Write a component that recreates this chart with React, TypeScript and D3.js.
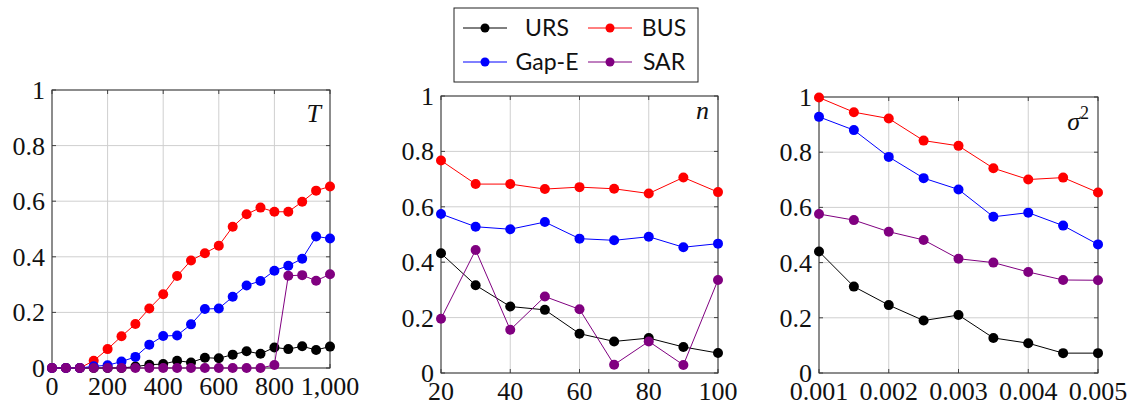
import React from "react";
import * as d3 from "d3";

const seriesNames = ["URS", "BUS", "Gap-E", "SAR"];
const seriesColors = ["#000000", "#ff0000", "#0000ff", "#800080"];

// panel T
const tX = [0, 50, 100, 150, 200, 250, 300, 350, 400, 450, 500, 550, 600, 650, 700, 750, 800, 850, 900, 950, 1000];
const tURS = [0, 0, 0, 0, 0, 0, 0.005, 0.012, 0.014, 0.026, 0.02, 0.037, 0.035, 0.048, 0.06, 0.051, 0.074, 0.068, 0.078, 0.065, 0.077];
const tBUS = [0, 0, 0, 0.026, 0.068, 0.114, 0.158, 0.214, 0.265, 0.331, 0.387, 0.413, 0.44, 0.508, 0.553, 0.577, 0.562, 0.562, 0.598, 0.638, 0.653];
const tGap = [0, 0, 0, 0.006, 0.01, 0.023, 0.04, 0.084, 0.115, 0.117, 0.157, 0.212, 0.214, 0.256, 0.297, 0.313, 0.35, 0.368, 0.393, 0.473, 0.466];
const tSAR = [0, 0, 0, 0, 0, 0, 0, 0, 0, 0, 0, 0, 0, 0, 0, 0, 0.011, 0.332, 0.334, 0.314, 0.337];
const tTicks = [0, 200, 400, 600, 800, 1000];

// panel n
const nX = [20, 30, 40, 50, 60, 70, 80, 90, 100];
const nURS = [0.432, 0.317, 0.24, 0.228, 0.142, 0.114, 0.126, 0.094, 0.072];
const nBUS = [0.767, 0.682, 0.682, 0.664, 0.671, 0.665, 0.648, 0.706, 0.653];
const nGap = [0.574, 0.528, 0.519, 0.545, 0.485, 0.479, 0.492, 0.454, 0.467];
const nSAR = [0.196, 0.444, 0.156, 0.276, 0.23, 0.03, 0.114, 0.029, 0.336];
const nTicks = [20, 40, 60, 80, 100];

// panel sigma^2
const sX = [0.001, 0.0015, 0.002, 0.0025, 0.003, 0.0035, 0.004, 0.0045, 0.005];
const sURS = [0.44, 0.313, 0.246, 0.19, 0.21, 0.127, 0.108, 0.072, 0.072];
const sBUS = [0.998, 0.945, 0.922, 0.842, 0.823, 0.742, 0.701, 0.708, 0.654];
const sGap = [0.928, 0.88, 0.783, 0.706, 0.665, 0.566, 0.581, 0.534, 0.466];
const sSAR = [0.576, 0.554, 0.512, 0.482, 0.414, 0.4, 0.366, 0.337, 0.336];
const sTicks = [0.001, 0.002, 0.003, 0.004, 0.005];

const yTicks = [0, 0.2, 0.4, 0.6, 0.8, 1];

const serif = "Liberation Serif";
const sans = "Lato";

const panels = [
  {
    xs: tX, series: [tURS, tBUS, tGap, tSAR], ticks: tTicks,
    fmt: d3.format(","), box: { l: 52, r: 330, t: 90, b: 368 },
    label: "T", labelDy: 32,
  },
  {
    xs: nX, series: [nURS, nBUS, nGap, nSAR], ticks: nTicks,
    fmt: d3.format("d"), box: { l: 441, r: 718, t: 96, b: 373 },
    label: "n", labelDy: 23,
  },
  {
    xs: sX, series: [sURS, sBUS, sGap, sSAR], ticks: sTicks,
    fmt: d3.format(".3f"), box: { l: 819, r: 1098, t: 97, b: 373 },
    label: "sigma", labelDy: 33,
  },
];

const numStyle = { fontFamily: serif, fontSize: 26, fill: "#111" };

const Panel = ({ p }) => {
  const { l, r, t, b } = p.box;
  const x = d3.scaleLinear().domain(d3.extent(p.xs)).range([l, r]);
  const y = d3.scaleLinear().domain([0, 1]).range([b, t]);
  const line = d3.line().x((d) => x(d[0])).y((d) => y(d[1]));
  return (
    <g>
      {p.ticks.map((v) => (
        <line key={"gx" + v} x1={x(v)} x2={x(v)} y1={t} y2={b} stroke="#cfcfcf" strokeWidth={1} />
      ))}
      {yTicks.map((v) => (
        <line key={"gy" + v} x1={l} x2={r} y1={y(v)} y2={y(v)} stroke="#cfcfcf" strokeWidth={1} />
      ))}
      {p.ticks.map((v) => (
        <g key={"tx" + v}>
          <line x1={x(v)} x2={x(v)} y1={b} y2={b - 4} stroke="#444" />
          <line x1={x(v)} x2={x(v)} y1={t} y2={t + 4} stroke="#444" />
          <text x={x(v)} y={b + 27} textAnchor="middle" style={numStyle}>
            {p.fmt(v)}
          </text>
        </g>
      ))}
      {yTicks.map((v) => (
        <g key={"ty" + v}>
          <line x1={l} x2={l + 4} y1={y(v)} y2={y(v)} stroke="#444" />
          <line x1={r} x2={r - 4} y1={y(v)} y2={y(v)} stroke="#444" />
          <text x={l - 7} y={y(v) + 9} textAnchor="end" style={numStyle}>
            {d3.format("~g")(v)}
          </text>
        </g>
      ))}
      <rect x={l} y={t} width={r - l} height={b - t} fill="none" stroke="#333" strokeWidth={1} />
      {p.series.map((vals, i) => {
        const pts = p.xs.map((xv, j) => [xv, vals[j]]);
        return (
          <g key={"s" + i}>
            <path d={line(pts)} fill="none" stroke={seriesColors[i]} strokeWidth={1} />
            {pts.map((d, j) => (
              <circle key={j} cx={x(d[0])} cy={y(d[1])} r={5} fill={seriesColors[i]} />
            ))}
          </g>
        );
      })}
      <text x={r - 9} y={t + p.labelDy} textAnchor="end" style={{ ...numStyle, fontStyle: "italic" }}>
        {p.label === "sigma" ? (
          <>
            σ<tspan style={{ fontStyle: "normal", fontSize: 18 }} dy={-11}>2</tspan>
          </>
        ) : (
          p.label
        )}
      </text>
    </g>
  );
};

const legendCols = [463, 588];
const legendRows = [28, 62];

const Legend = () => (
  <g>
    <rect x={454} y={8} width={244} height={74} fill="#fff" stroke="#222" strokeWidth={1} />
    {seriesNames.map((name, i) => {
      const cx = legendCols[i % 2];
      const cy = legendRows[Math.floor(i / 2)];
      const textCenter = i % 2 === 0 ? cx + 84 : cx + 76;
      return (
        <g key={name}>
          <line x1={cx} x2={cx + 44} y1={cy} y2={cy} stroke={seriesColors[i]} strokeWidth={1} />
          <circle cx={cx + 22} cy={cy} r={4.5} fill={seriesColors[i]} />
          <text x={textCenter} y={cy + 8} textAnchor="middle" style={{ fontFamily: sans, fontSize: 23, fill: "#111" }}>
            {name}
          </text>
        </g>
      );
    })}
  </g>
);

export default function App() {
  return (
    <svg width={1133} height={407} style={{ position: "absolute", left: 0, top: 0, background: "#fff" }}>
      {panels.map((p, i) => (
        <Panel key={i} p={p} />
      ))}
      <Legend />
    </svg>
  );
}
